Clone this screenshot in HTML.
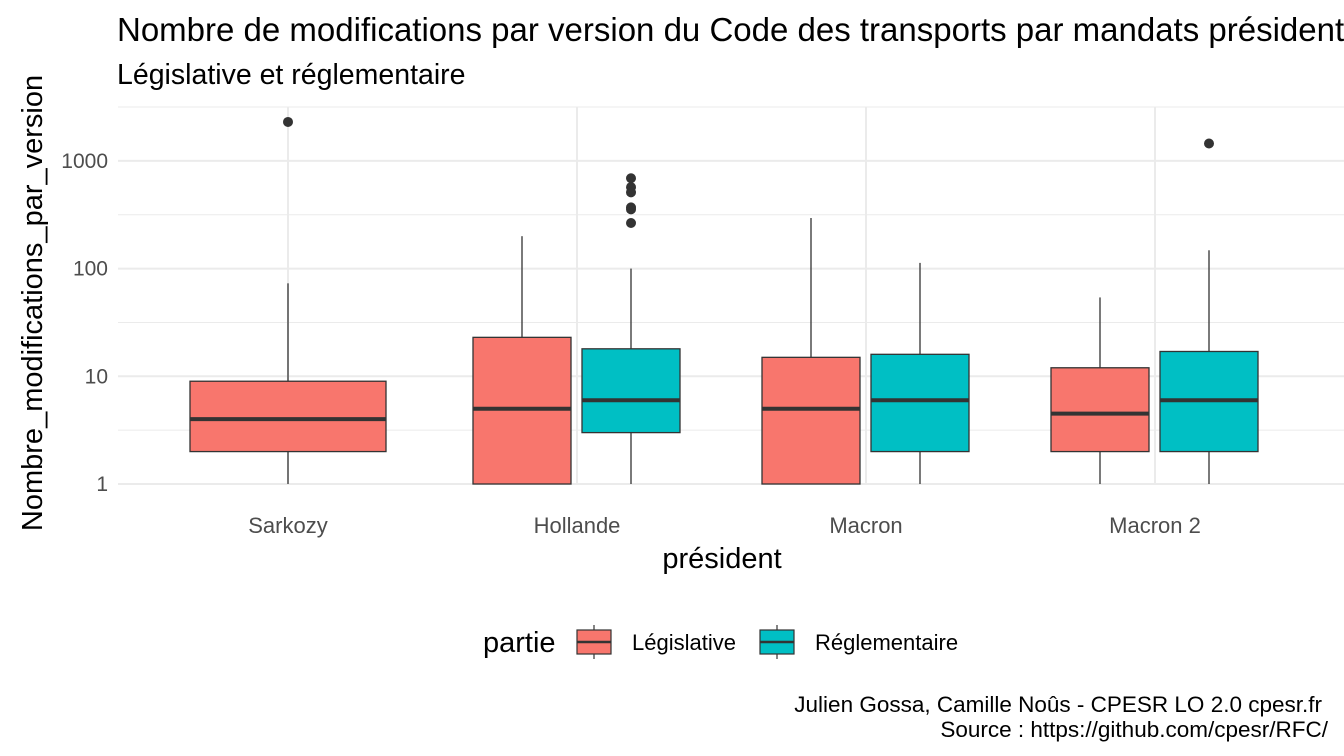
<!DOCTYPE html>
<html><head><meta charset="utf-8"><style>
body{margin:0;background:#fff;font-family:"Liberation Sans",sans-serif;overflow:hidden}
svg{display:block}
</style></head><body>
<svg id="c" width="1344" height="756" xmlns="http://www.w3.org/2000/svg">
<text x="117" y="41" font-size="33" fill="#000">Nombre de modifications par version du Code des transports par mandats présidentiels</text>
<text x="117" y="84" font-size="28.5" fill="#000">Législative et réglementaire</text>
<g id="grid"></g>
<g id="yt"></g>
<g id="xt"></g>
<g id="marks"></g>
<text x="722" y="568" font-size="29" text-anchor="middle">président</text>
<text transform="translate(42,303) rotate(-90)" font-size="29" text-anchor="middle">Nombre_modifications_par_version</text>
<g>
<text x="483" y="652" font-size="29">partie</text>
<g>
<line x1="594" y1="625" x2="594" y2="659" stroke="#333" stroke-width="1.2"/>
<rect x="577" y="630" width="34" height="24" fill="#F8766D" stroke="#333" stroke-width="1.2"/>
<line x1="577" y1="642" x2="611" y2="642" stroke="#333" stroke-width="2.5"/>
<text x="632" y="650" font-size="22">Législative</text></g>
<g>
<line x1="777" y1="625" x2="777" y2="659" stroke="#333" stroke-width="1.2"/>
<rect x="760" y="630" width="34" height="24" fill="#00BFC4" stroke="#333" stroke-width="1.2"/>
<line x1="760" y1="642" x2="794" y2="642" stroke="#333" stroke-width="2.5"/>
<text x="815" y="650" font-size="22">Réglementaire</text></g>
</g>
<text x="1322" y="712" font-size="22.5" text-anchor="end">Julien Gossa, Camille Noûs - CPESR LO 2.0 cpesr.fr</text>
<text x="1328" y="737" font-size="22.5" text-anchor="end">Source : https://github.com/cpesr/RFC/</text>
</svg>
<script>
const categories=["Sarkozy","Hollande","Macron","Macron 2"];
const yTicks=[1,10,100,1000];
const yTickLabels=["1","10","100","1000"];
// [category index, min, q1, median, q3, max]
const legStats=[[0,1,2,4,9,73],[1,1,1,5,23,200],[2,1,1,5,15,295],[3,1,2,4.5,12,54]];
const regStats=[[1,1,3,6,18,100],[2,1,2,6,16,113],[3,1,2,6,17,148]];
const regOutliers=[[1,690,570,510,370,355,265],[3,1450]];
const legOutliers=[[0,2300]];
const NS="http://www.w3.org/2000/svg";
const X0=288,XS=289,PL=118,PR=1344,PT=107,PB=484;
function yS(v){return 484-107.7*Math.log10(v);}
function xS(i){return X0+XS*i;}
function mk(t,a,p){const e=document.createElementNS(NS,t);for(const k in a)e.setAttribute(k,a[k]);p.appendChild(e);return e;}
const grid=document.getElementById('grid'),yt=document.getElementById('yt'),xt=document.getElementById('xt'),marks=document.getElementById('marks');
yTicks.forEach(v=>{const yy=yS(v*Math.sqrt(10));if(yy>PT){const l=mk('line',{x1:PL,x2:PR,y1:yy,y2:yy,stroke:'#ebebeb','stroke-width':1},grid);

}});
yTicks.forEach((v,i)=>{const yy=yS(v);const l=mk('line',{x1:PL,x2:PR,y1:yy,y2:yy,stroke:'#ebebeb','stroke-width':2},grid);


const t=mk('text',{x:108,y:yy+7,'font-size':21,'text-anchor':'end',fill:'#4d4d4d'},yt);t.textContent=yTickLabels[i];

});
categories.forEach((c,i)=>{const l=mk('line',{x1:xS(i),x2:xS(i),y1:PT,y2:PB,stroke:'#ebebeb','stroke-width':2},grid);


const t=mk('text',{x:xS(i),y:533,'font-size':22,'text-anchor':'middle',fill:'#4d4d4d'},xt);t.textContent=c;

});
const single=new Set([0]);
function cx(ci,s){if(single.has(ci))return {c:xS(ci),w:196};return {c:xS(ci)+(s===0?-55:54),w:98};}
function box(d,s,col){const ci=d[0];const {c,w}=cx(ci,s);
const g=mk('g',{},marks);


mk('line',{x1:c,x2:c,y1:yS(d[1]),y2:yS(d[2]),stroke:'#333','stroke-width':1.3},g);
mk('line',{x1:c,x2:c,y1:yS(d[4]),y2:yS(d[5]),stroke:'#333','stroke-width':1.3},g);
mk('rect',{x:c-w/2,y:yS(d[4]),width:w,height:yS(d[2])-yS(d[4]),fill:col,stroke:'#333','stroke-width':1.3},g);
mk('line',{x1:c-w/2,x2:c+w/2,y1:yS(d[3]),y2:yS(d[3]),stroke:'#333','stroke-width':4},g);}
legStats.forEach(d=>box(d,0,'#F8766D'));
regStats.forEach(d=>box(d,1,'#00BFC4'));
function outs(arr,s){arr.forEach(o=>{const {c}=cx(o[0],s);for(let k=1;k<o.length;k++){const p=mk('circle',{cx:c,cy:yS(o[k]),r:5,fill:'#333'},marks);

}});}
outs(legOutliers,0);outs(regOutliers,1);
</script>
</body></html>
